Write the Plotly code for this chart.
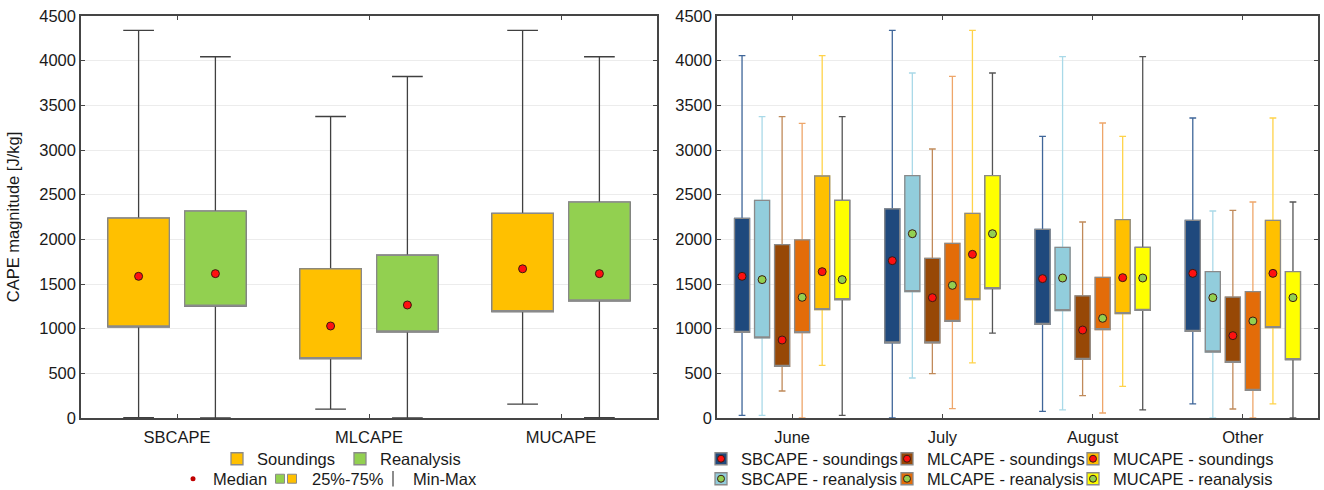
import plotly.graph_objects as go

# ---------------- data: left panel (all months) ----------------
params = ["SBCAPE", "MLCAPE", "MUCAPE"]
snd_min = [5, 100, 155]
snd_q1 = [1020, 665, 1190]
snd_med = [1586, 1030, 1670]
snd_q3 = [2237, 1670, 2290]
snd_max = [4340, 3375, 4340]
rea_min = [0, 0, 5]
rea_q1 = [1253, 965, 1310]
rea_med = [1616, 1265, 1616]
rea_q3 = [2316, 1822, 2417]
rea_max = [4044, 3823, 4044]

# ---------------- data: right panel (by month) ----------------
months = ["June", "July", "August", "Other"]
sb_snd_min = [30, 0, 75, 157]
sb_snd_q1 = [959, 840, 1049, 970]
sb_snd_med = [1586, 1761, 1560, 1619]
sb_snd_q3 = [2235, 2340, 2112, 2213]
sb_snd_max = [4056, 4340, 3153, 3358]

sb_rea_min = [30, 448, 90, 0]
sb_rea_q1 = [896, 1414, 1201, 739]
sb_rea_med = [1549, 2063, 1567, 1347]
sb_rea_q3 = [2437, 2713, 1910, 1638]
sb_rea_max = [3373, 3862, 4045, 2317]

ml_snd_min = [302, 496, 250, 101]
ml_snd_q1 = [578, 840, 657, 623]
ml_snd_med = [873, 1347, 985, 922]
ml_snd_q3 = [1940, 1787, 1366, 1354]
ml_snd_max = [3373, 3011, 2194, 2325]

ml_rea_min = [0, 104, 56, 0]
ml_rea_q1 = [955, 1082, 989, 310]
ml_rea_med = [1351, 1485, 1116, 1086]
ml_rea_q3 = [1993, 1955, 1575, 1414]
ml_rea_max = [3299, 3825, 3302, 2418]

mu_snd_min = [590, 616, 354, 157]
mu_snd_q1 = [1213, 1325, 1168, 1011]
mu_snd_med = [1638, 1832, 1571, 1619]
mu_snd_q3 = [2709, 2291, 2220, 2213]
mu_snd_max = [4056, 4340, 3153, 3358]

mu_rea_min = [30, 951, 90, 0]
mu_rea_q1 = [1325, 1448, 1205, 653]
mu_rea_med = [1549, 2063, 1567, 1347]
mu_rea_q3 = [2437, 2713, 1910, 1638]
mu_rea_max = [3373, 3862, 4045, 2418]

y_ticks = list(range(0, 4501, 500))

# ---------------- styles ----------------
FONT = "Liberation Sans"
EDGE = "#8a8a8a"
AX = "#454545"
RED = "#ff1010"
GREEN = "#92d050"
GOLD = "#ffc000"
W, H = 1324, 490
ML, MR, MT, MB = 81, 6, 16, 72
PW, PH = W - ML - MR, H - MT - MB


def px_x(px):
    return (px - ML) / PW


def px_y(py):
    return (H - MB - py) / PH


right_series = [
    ("SBCAPE - soundings", (sb_snd_min, sb_snd_q1, sb_snd_med, sb_snd_q3, sb_snd_max), "#1f497d", "#3f6699", RED),
    ("SBCAPE - reanalysis", (sb_rea_min, sb_rea_q1, sb_rea_med, sb_rea_q3, sb_rea_max), "#92cddc", "#a9d9e8", GREEN),
    ("MLCAPE - soundings", (ml_snd_min, ml_snd_q1, ml_snd_med, ml_snd_q3, ml_snd_max), "#974806", "#c08a5a", RED),
    ("MLCAPE - reanalysis", (ml_rea_min, ml_rea_q1, ml_rea_med, ml_rea_q3, ml_rea_max), "#e36c09", "#eea66a", GREEN),
    ("MUCAPE - soundings", (mu_snd_min, mu_snd_q1, mu_snd_med, mu_snd_q3, mu_snd_max), "#ffc000", "#ffd34a", RED),
    ("MUCAPE - reanalysis", (mu_rea_min, mu_rea_q1, mu_rea_med, mu_rea_q3, mu_rea_max), "#ffff00", "#555555", GREEN),
]

fig = go.Figure()


def add_series(xa, ya, xs, stats, width, fill, wcolor, cap, name, legend, mcolor, msize):
    lo, q1, med, q3, hi = stats
    # whiskers (min-max)
    fig.add_trace(go.Box(
        x=xs, q1=q1, median=med, q3=q3, lowerfence=lo, upperfence=hi,
        width=width, fillcolor=fill, line=dict(color=wcolor, width=1.3),
        whiskerwidth=cap, boxpoints=False, xaxis=xa, yaxis=ya,
        showlegend=False, hoverinfo="skip"))
    # 25%-75% body
    fig.add_trace(go.Box(
        x=xs, q1=q1, median=q1, q3=q3, lowerfence=q1, upperfence=q3,
        width=width, fillcolor=fill, line=dict(color=EDGE, width=1.3),
        whiskerwidth=0, boxpoints=False, xaxis=xa, yaxis=ya,
        name=name, legend=legend, showlegend=True))
    # median
    fig.add_trace(go.Scatter(
        x=xs, y=med, mode="markers", xaxis=xa, yaxis=ya, showlegend=False,
        marker=dict(color=mcolor, size=msize, line=dict(color="#3a1a10", width=1))))


def key(name, legend, **marker):
    fig.add_trace(go.Scatter(x=[None], y=[None], mode="markers", name=name, legend=legend,
                             marker=marker, hoverinfo="skip"))


ICON = 20  # legend icon centre offset from the legend's left edge
ROW1, ROW2 = px_y(459), px_y(479)
legends = {}


def leg(icon_px, row, size=16.5):
    return dict(orientation="h", xanchor="left", yanchor="middle", bgcolor="rgba(0,0,0,0)",
                font=dict(size=size, family=FONT, color="#1a1a1a"), itemwidth=30,
                tracegroupgap=0, traceorder="normal", x=px_x(icon_px - ICON), y=row)


# left panel
left_off = 0.2
xs_snd = [i - left_off for i in range(len(params))]
xs_rea = [i + left_off for i in range(len(params))]
add_series("x", "y", xs_snd, (snd_min, snd_q1, snd_med, snd_q3, snd_max), 0.32, GOLD, "#404040", 0.5,
           "Soundings", "legend", RED, 8)
add_series("x", "y", xs_rea, (rea_min, rea_q1, rea_med, rea_q3, rea_max), 0.32, GREEN, "#404040", 0.5,
           "Reanalysis", "legend", RED, 8)
legends["legend"] = leg(237, ROW1)

# statistics key of the left panel
key("Median", "legend2", color="#c00000", size=5)
key(" ", "legend3", color=GREEN, size=9, symbol="square", line=dict(color=EDGE, width=1))
key("25%-75%", "legend4", color=GOLD, size=9, symbol="square", line=dict(color=EDGE, width=1))
key("Min-Max", "legend5", color="#666666", size=11, symbol="line-ns-open", line=dict(color="#666666", width=1.5))
legends["legend2"] = leg(193, ROW2)
legends["legend3"] = leg(280, ROW2)
legends["legend4"] = leg(292, ROW2)
legends["legend5"] = leg(393, ROW2)

# right panel
step = 0.8 / len(right_series)
col_icons = [721, 907, 1093]
for k, (name, stats, fill, wcol, mcol) in enumerate(right_series):
    off = (k - (len(right_series) - 1) / 2) * step
    xs = [i + off for i in range(len(months))]
    box_leg, dot_leg = f"legend{6 + k}", f"legend{12 + k}"
    add_series("x2", "y2", xs, stats, 0.1, fill, wcol, 0.45, name, box_leg, mcol, 8)
    key(" ", dot_leg, color=mcol, size=7, line=dict(color="#3a1a10", width=1))
    row = ROW1 if k % 2 == 0 else ROW2
    legends[box_leg] = leg(col_icons[k // 2], row)
    legends[dot_leg] = leg(col_icons[k // 2], row)

axis_common = dict(showline=True, mirror="allticks", linecolor=AX, linewidth=1.5,
                   ticks="inside", ticklen=4, tickcolor=AX, zeroline=False, automargin=False,
                   tickfont=dict(size=16.5, color="#1a1a1a", family=FONT))
yaxis_common = dict(axis_common, range=[0, 4500], tickvals=y_ticks, showgrid=True,
                    gridcolor="#ececec", gridwidth=1)
xaxis_common = dict(axis_common, showgrid=False, ticklabelstandoff=3)

fig.update_layout(
    width=W, height=H,
    margin=dict(l=ML, r=MR, t=MT, b=MB, autoexpand=False),
    paper_bgcolor="white", plot_bgcolor="white",
    font=dict(family=FONT, color="#1a1a1a"),
    boxmode="overlay",
    xaxis=dict(xaxis_common, domain=[0, px_x(657)], range=[-0.5, len(params) - 0.5],
               tickvals=list(range(len(params))), ticktext=params),
    yaxis=dict(yaxis_common, title=dict(text="CAPE magnitude [J/kg]", font=dict(size=16.5, family=FONT))),
    xaxis2=dict(xaxis_common, domain=[px_x(717), 1], range=[-0.5, len(months) - 0.5],
                tickvals=list(range(len(months))), ticktext=months, anchor="y2"),
    yaxis2=dict(yaxis_common, anchor="x2"),
    showlegend=True,
    **legends,
)

fig.write_html("out.html", config={"displayModeBar": False},
               post_script="document.body.style.margin='0';document.body.style.overflow='hidden';")
